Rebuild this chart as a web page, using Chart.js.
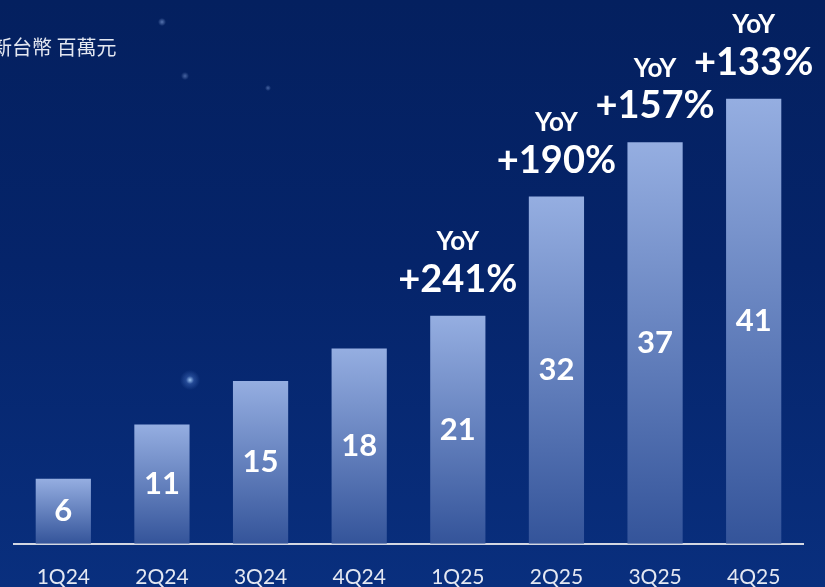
<!DOCTYPE html>
<html>
<head>
<meta charset="utf-8">
<script src="https://cdn.jsdelivr.net/npm/chart.js@4.4.1/dist/chart.umd.min.js"></script>
<style>
html, body { margin: 0; padding: 0; }
body {
  width: 825px; height: 587px; overflow: hidden;
  background:
    radial-gradient(circle at 190px 380px, rgba(170,210,255,0.9) 0px, rgba(120,170,255,0.25) 4px, rgba(0,0,0,0) 10px),
    radial-gradient(circle at 162px 22px, rgba(170,200,255,0.5) 0px, rgba(0,0,0,0) 4px),
    radial-gradient(circle at 555px 295px, rgba(200,220,255,0.6) 0px, rgba(0,0,0,0) 5px),
    radial-gradient(circle at 268px 88px, rgba(170,200,255,0.4) 0px, rgba(0,0,0,0) 3px),
    radial-gradient(circle at 185px 76px, rgba(170,200,255,0.4) 0px, rgba(0,0,0,0) 4px),
    linear-gradient(180deg, #04205f 0%, #05246a 45%, #092f7e 100%);
}
canvas { display: block; }
</style>
</head>
<body>
<canvas id="canvas" width="825" height="587"></canvas>
<script>
// quarterly values, NT$ millions
var quarters = ['1Q24', '2Q24', '3Q24', '4Q24', '1Q25', '2Q25', '3Q25', '4Q25'];
var revenue = [6, 11, 15, 18, 21, 32, 37, 41];
var yoyText = [null, null, null, null, '+241%', '+190%', '+157%', '+133%'];
var unitText = '新台幣 百萬元';

var sans = 'Lato, "Noto Sans CJK TC", sans-serif';

function barFill(context) {
  var chart = context.chart;
  var yScale = chart.scales.y;
  if (!chart.chartArea || !yScale) return '#7f98cf';
  var top = yScale.getPixelForValue(revenue[context.dataIndex]);
  var bottom = yScale.getPixelForValue(0);
  var g = chart.ctx.createLinearGradient(0, top, 0, bottom);
  g.addColorStop(0, '#95aee1');
  g.addColorStop(1, '#34549a');
  return g;
}

var labelPlugin = {
  id: 'labels',
  afterDatasetsDraw: function(chart) {
    var ctx = chart.ctx;
    var meta = chart.getDatasetMeta(0);
    ctx.save();
    ctx.fillStyle = '#ffffff';
    ctx.textAlign = 'center';
    ctx.textBaseline = 'middle';
    meta.data.forEach(function(bar, i) {
      ctx.font = 'bold 31px ' + sans;
      ctx.fillText(String(revenue[i]), bar.x, (bar.y + bar.base) / 2);
      if (yoyText[i]) {
        ctx.font = 'bold 38px ' + sans;
        ctx.fillText(yoyText[i], bar.x, bar.y - 36);
        ctx.font = 'bold 26px ' + sans;
        ctx.fillText('YoY', bar.x, bar.y - 74);
      }
    });
    // unit text, top left
    ctx.textAlign = 'left';
    ctx.fillStyle = '#e3e7f1';
    ctx.font = '20px "Noto Sans CJK TC", sans-serif';
    ctx.fillText(unitText, -8, 47);
    ctx.restore();
  }
};

new Chart(document.getElementById('canvas'), {
  type: 'bar',
  data: {
    labels: quarters,
    datasets: [{
      data: revenue,
      backgroundColor: barFill,
      borderWidth: 0,
      categoryPercentage: 1,
      barPercentage: 0.56
    }]
  },
  options: {
    responsive: false,
    animation: false,
    layout: { padding: { top: 1, left: 14, right: 22, bottom: -24 } },
    plugins: { legend: { display: false }, tooltip: { enabled: false } },
    scales: {
      x: {
        grid: { display: false, drawTicks: false },
        border: { display: true, color: '#d3d7e2', width: 2 },
        ticks: { color: '#e4e8f2', font: { family: sans, size: 21 }, padding: 21 }
      },
      y: {
        display: false,
        min: 0,
        max: 50
      }
    }
  },
  plugins: [labelPlugin]
});
</script>
</body>
</html>
